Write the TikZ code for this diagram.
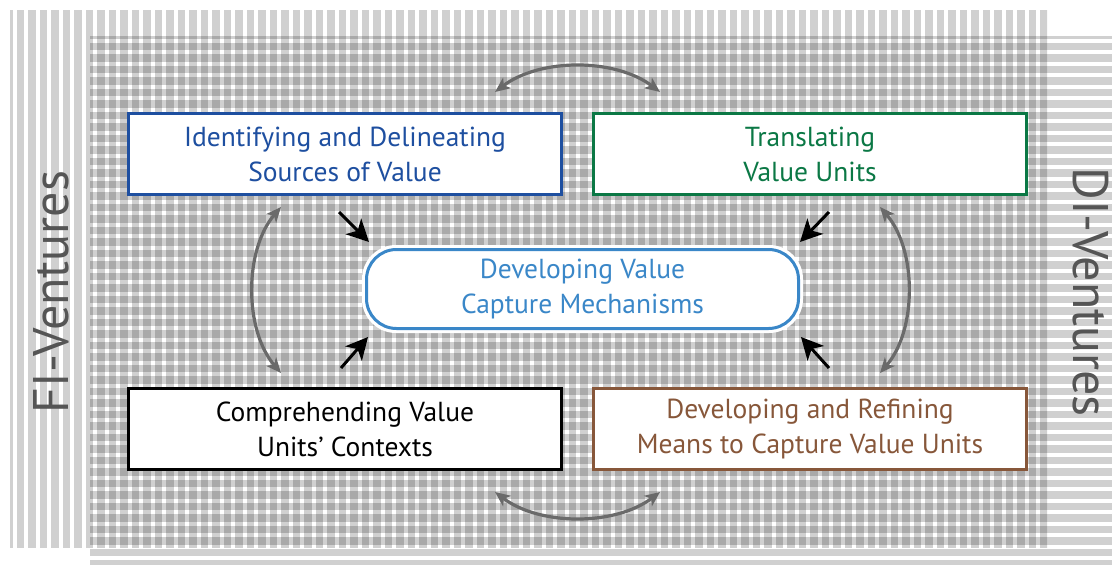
\documentclass[tikz,border=0pt]{standalone}
\usepackage{fontspec}
\setmainfont{PT Sans}
\usetikzlibrary{arrows.meta}
\definecolor{cblue}{HTML}{1E4FA0}
\definecolor{cgreen}{HTML}{0B7845}
\definecolor{cbrown}{HTML}{87573A}
\definecolor{ccenter}{HTML}{3A87C8}
\definecolor{carrow}{HTML}{6A6A6A}
\definecolor{cside}{HTML}{555555}
\tikzset{
  box/.style={draw, line width=3pt, fill=white, minimum width=433pt, minimum height=81pt,
    align=center, font=\fontsize{27.5}{35}\selectfont, inner sep=0pt},
  centerbox/.style={draw=ccenter, line width=3pt, fill=white, rounded corners=30pt,
    minimum width=432pt, minimum height=79pt, align=center, text=ccenter,
    font=\fontsize{27.5}{35}\selectfont, inner sep=0pt},
  cyc/.style={draw=carrow, line width=3.2pt, {Stealth[length=15pt,width=13pt,inset=4pt]}-{Stealth[length=15pt,width=13pt,inset=4pt]}},
  push/.style={draw=black, line width=3pt, -{Stealth[length=22pt,width=22pt,inset=6pt]}},
  side/.style={text=cside, font=\fontsize{50}{50}\selectfont, inner sep=0pt}
}
\begin{document}
\begin{tikzpicture}[x=1pt,y=-1pt]
\useasboundingbox (0,0) rectangle (1112,565);
\fill[white] (0,0) rectangle (1112,565);
% vertical stripes (FI-Ventures area)
\begin{scope}
\clip (10,10) rectangle (1047,548);
\foreach \k in {0,...,91} {
  \fill[black,opacity=0.185] ({5.2+11.5*\k},10) rectangle ({12.5+11.5*\k},548);
}
\end{scope}
% horizontal stripes (DI-Ventures area)
\begin{scope}
\clip (90,36) rectangle (1112,565);
\foreach \k in {0,...,47} {
  \fill[black,opacity=0.185] (90,{31.2+11.5*\k}) rectangle (1112,{38.5+11.5*\k});
}
\end{scope}
% side labels
\node[side, rotate=90, anchor=base] (fi) at (68,292) {FI-Ventures};
\node[side, rotate=-90, anchor=base] (di) at (1073,292) {DI-Ventures};
% boxes
\node[box, draw=cblue, text=cblue] (b1) at (345,154) {Identifying and Delineating\\Sources of Value};
\node[box, draw=cgreen, text=cgreen] (b2) at (810,154) {Translating\\Value Units};
\node[box, draw=black, text=black] (b3) at (345,429) {Comprehending Value\\Units’ Contexts};
\node[box, draw=cbrown, text=cbrown] (b4) at (810,429) {Developing and Refining\\Means to Capture Value Units};
% center
\draw[white, line width=6pt, rounded corners=31pt] (365,248) rectangle (800,330);
\node[centerbox] (c) at (582.5,289) {Developing Value\\Capture Mechanisms};
% cycle arrows
\coordinate (t1) at (495,92); \coordinate (t2) at (660,92);
\coordinate (d1) at (495,492); \coordinate (d2) at (660,492);
\coordinate (l1) at (281,207); \coordinate (l2) at (281,373);
\coordinate (r1) at (880,207); \coordinate (r2) at (880,373);
\draw[cyc] (t1) .. controls (540,58) and (615,58) .. (t2);
\draw[cyc] (d1) .. controls (540,526) and (615,526) .. (d2);
\draw[cyc] (l1) .. controls (244,250) and (244,330) .. (l2);
\draw[cyc] (r1) .. controls (917,250) and (917,330) .. (r2);
% push arrows
\coordinate (p1) at (339,212); \coordinate (p2) at (341,368);
\coordinate (p3) at (829,212); \coordinate (p4) at (829,368);
\draw[push] (p1) -- (369,242);
\draw[push] (p2) -- (368,337);
\draw[push] (p3) -- (800,242);
\draw[push] (p4) -- (801,337);
\end{tikzpicture}
\end{document}
